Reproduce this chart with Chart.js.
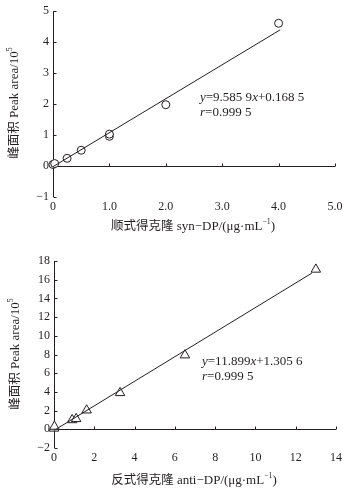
<!DOCTYPE html>
<html>
<head>
<meta charset="utf-8">
<script src="https://cdn.jsdelivr.net/npm/chart.js@4.4.1/dist/chart.umd.min.js"></script>
<style>
  html, body { margin: 0; padding: 0; background: #fff; }
  body { width: 349px; height: 492px; position: relative; overflow: hidden;
         font-family: 'Liberation Serif', 'Times New Roman', serif; color: #231f20; }
  .box { position: absolute; left: 0; width: 349px; }
  .lbl { position: absolute; white-space: nowrap; font-size: 13px; line-height: 1; }
  .cn { font-family: 'Noto Sans CJK SC', sans-serif; font-size: 12.5px; }
  .ytit { transform: translate(-50%, -50%) rotate(-90deg); }
  .xtit { transform: translate(-50%, -50%); }
  .eq { transform: translateY(-50%); }
  sup { font-size: 0.6em; position: relative; top: -0.15em; line-height: 0; }
</style>
</head>
<body>
<div class="box" style="top:0;height:240px"><canvas id="synChart"></canvas></div>
<div class="box" style="top:240px;height:252px"><canvas id="antiChart"></canvas></div>

<div class="lbl ytit" style="left:13px;top:103px"><span class="cn">峰面积</span> Peak area/10<sup>5</sup></div>
<div class="lbl xtit" style="left:193px;top:225px"><span class="cn">顺式得克隆</span> syn−DP/(μg·mL<sup>−1</sup>)</div>
<div class="lbl eq" style="left:200px;top:96px"><i>y</i>=9.585 9<i>x</i>+0.168 5</div>
<div class="lbl eq" style="left:200px;top:111px"><i>r</i>=0.999 5</div>

<div class="lbl ytit" style="left:14px;top:354px"><span class="cn">峰面积</span> Peak area/10<sup>5</sup></div>
<div class="lbl xtit" style="left:194px;top:479px"><span class="cn">反式得克隆</span> anti−DP/(μg·mL<sup>−1</sup>)</div>
<div class="lbl eq" style="left:202px;top:360px"><i>y</i>=11.899<i>x</i>+1.305 6</div>
<div class="lbl eq" style="left:202px;top:375px"><i>r</i>=0.999 5</div>

<script>
// 标准曲线：顺式 / 反式得克隆
const INK = '#231f20';

// 顺式 syn-DP
const synConc = [0, 0.03, 0.25, 0.5, 1.0, 1.0, 2.0, 4.0];
const synArea = [0.05, 0.08, 0.25, 0.51, 0.96, 1.03, 1.98, 4.61];
const synFitX = [0, 4.03];
const synFitY = [-0.02, 4.40];
const synXTicks = [0, 1, 2, 3, 4, 5];
const synYTicks = [-1, 0, 1, 2, 3, 4, 5];

// 反式 anti-DP
const antiConc = [0, 0.02, 0.9, 1.1, 1.62, 3.28, 6.5, 13.0];
const antiArea = [0.1, 0.3, 1.0, 1.12, 2.04, 3.9, 7.93, 17.1];
const antiFitX = [0, 12.8];
const antiFitY = [-0.12, 16.7];
const antiXTicks = [0, 2, 4, 6, 8, 10, 12, 14];
const antiYTicks = [-2, 0, 2, 4, 6, 8, 10, 12, 14, 16, 18];

Chart.defaults.font.family = "'Liberation Serif', 'Times New Roman', serif";
Chart.defaults.font.size = 12;
Chart.defaults.color = INK;

const minus = (v) => (v < 0 ? '\u2212' + Math.abs(v) : String(v));

// 坐标轴自己画：x 轴线在 y=0 处，刻度线朝内
const axesPlugin = {
  id: 'innerAxes',
  beforeDatasetsDraw(chart) {
    const { ctx, chartArea: a, scales: { x, y } } = chart;
    const y0 = Math.round(y.getPixelForValue(0)) + 0.5;
    const x0 = Math.round(a.left) + 0.5;
    ctx.save();
    ctx.strokeStyle = INK;
    ctx.lineWidth = 1;
    ctx.beginPath();
    ctx.moveTo(x0, y.getPixelForValue(y.max));
    ctx.lineTo(x0, y.getPixelForValue(y.min));
    ctx.moveTo(x0, y0);
    ctx.lineTo(x.getPixelForValue(x.max), y0);
    y.ticks.forEach((t) => {
      const py = Math.round(y.getPixelForValue(t.value)) + 0.5;
      ctx.moveTo(x0, py);
      ctx.lineTo(x0 + 3, py);
    });
    x.ticks.forEach((t) => {
      const px = Math.round(x.getPixelForValue(t.value)) + 0.5;
      ctx.moveTo(px, y0);
      ctx.lineTo(px, y0 - 3);
    });
    ctx.stroke();
    ctx.restore();
  }
};

function makeChart(id, o) {
  const pts = o.xs.map((v, i) => ({ x: v, y: o.ys[i] }));
  const fit = o.fx.map((v, i) => ({ x: v, y: o.fy[i] }));
  return new Chart(document.getElementById(id), {
    type: 'scatter',
    data: {
      datasets: [
        { data: fit, showLine: true, borderColor: INK, borderWidth: 1, pointRadius: 0, clip: false },
        { data: pts, pointStyle: o.marker, pointRadius: o.radius, pointBorderWidth: 1,
          pointBorderColor: INK, pointBackgroundColor: '#fff', clip: false }
      ]
    },
    options: {
      responsive: true, maintainAspectRatio: false, animation: false,
      layout: { padding: { top: o.padTop, right: o.padRight, left: 0, bottom: 0 } },
      plugins: { legend: { display: false }, tooltip: { enabled: false } },
      scales: {
        x: {
          type: 'linear', min: o.xTicks[0], max: o.xTicks[o.xTicks.length - 1],
          border: { display: false }, grid: { display: false, drawTicks: false },
          afterBuildTicks: (s) => { s.ticks = o.xTicks.map((v) => ({ value: v })); },
          ticks: { padding: 3, maxRotation: 0, autoSkip: false, callback: o.xFmt },
          afterFit: (s) => { s.height = o.xHeight; }
        },
        y: {
          type: 'linear', min: o.yTicks[0], max: o.yTicks[o.yTicks.length - 1],
          border: { display: false }, grid: { display: false, drawTicks: false },
          afterBuildTicks: (s) => { s.ticks = o.yTicks.map((v) => ({ value: v })); },
          ticks: { padding: 4, autoSkip: false, callback: minus },
          afterFit: (s) => { s.width = o.yWidth; }
        }
      }
    },
    plugins: [axesPlugin]
  });
}

makeChart('synChart', {
  xs: synConc, ys: synArea, fx: synFitX, fy: synFitY,
  xTicks: synXTicks, yTicks: synYTicks, marker: 'circle', radius: 4,
  xFmt: (v) => (v === 0 ? '0' : v.toFixed(1)),
  padTop: 10, padRight: 14, xHeight: 43, yWidth: 53
});

makeChart('antiChart', {
  xs: antiConc, ys: antiArea, fx: antiFitX, fy: antiFitY,
  xTicks: antiXTicks, yTicks: antiYTicks, marker: 'triangle', radius: 5.5,
  xFmt: (v) => String(v),
  padTop: 21, padRight: 13, xHeight: 44, yWidth: 54
});
</script>
</body>
</html>
